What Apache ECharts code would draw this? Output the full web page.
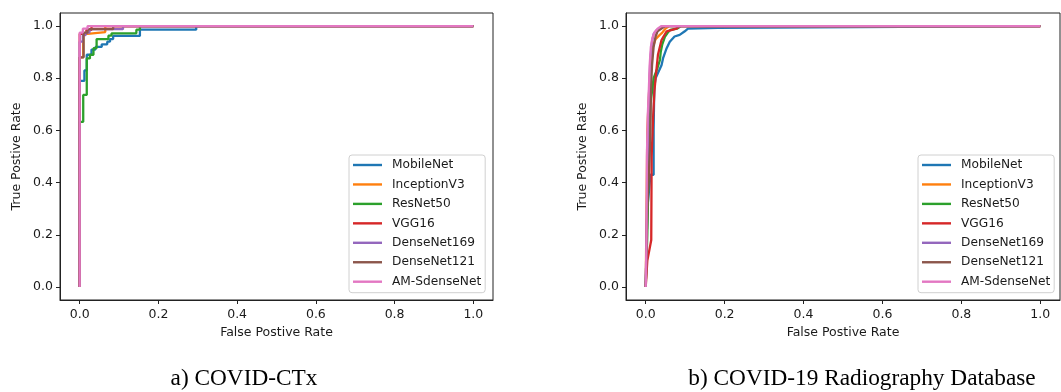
<!DOCTYPE html>
<html>
<head>
<meta charset="utf-8">
<script src="https://cdn.jsdelivr.net/npm/echarts@6/dist/echarts.min.js"></script>
<style>
html,body{margin:0;padding:0;background:#fff;}
#chart{width:1061px;height:392px;}
</style>
</head>
<body>
<div id="chart"></div>
<script>
// ---------- Data ----------
const seriesNames = ['MobileNet','InceptionV3','ResNet50','VGG16','DenseNet169','DenseNet121','AM-SdenseNet'];
const seriesColors = ['#1f77b4','#ff7f0e','#2ca02c','#d62728','#9467bd','#8c564b','#e377c2'];
const tickValues = [0, 0.2, 0.4, 0.6, 0.8, 1.0];
const captions = ['a) COVID-CTx', 'b) COVID-19 Radiography Database'];
const xTitle = 'False Postive Rate';
const yTitle = 'True Postive Rate';

// (a) COVID-CTx : [FPR, TPR]
const ctxMobileNet = [[0,0],[0,0.79],[0.012,0.79],[0.012,0.83],[0.018,0.83],[0.018,0.89],[0.03,0.89],[0.03,0.91],[0.04,0.91],[0.04,0.92],[0.056,0.92],[0.056,0.93],[0.07,0.93],[0.07,0.94],[0.077,0.94],[0.077,0.95],[0.085,0.95],[0.085,0.962],[0.153,0.962],[0.153,0.986],[0.296,0.986],[0.296,1],[1,1]];
const ctxInceptionV3 = [[0,0],[0,0.88],[0.009,0.88],[0.009,0.97],[0.02,0.97],[0.02,0.977],[0.065,0.977],[0.065,1],[1,1]];
const ctxResNet50 = [[0,0],[0,0.633],[0.009,0.633],[0.009,0.736],[0.018,0.736],[0.018,0.876],[0.026,0.876],[0.026,0.89],[0.035,0.89],[0.035,0.915],[0.043,0.915],[0.043,0.95],[0.073,0.95],[0.073,0.963],[0.081,0.963],[0.081,0.972],[0.144,0.972],[0.144,0.986],[0.153,0.986],[0.153,1],[1,1]];
const ctxVGG16 = [[0,0],[0,0.97],[0.017,0.97],[0.017,0.985],[0.03,0.985],[0.03,1],[1,1]];
const ctxDenseNet169 = [[0,0],[0,0.94],[0.008,0.94],[0.008,0.965],[0.015,0.965],[0.015,0.975],[0.025,0.975],[0.025,0.988],[0.11,0.988],[0.11,1],[1,1]];
const ctxDenseNet121 = [[0,0],[0,0.88],[0.01,0.88],[0.01,0.975],[0.02,0.975],[0.02,0.988],[0.085,0.988],[0.085,1],[1,1]];
const ctxAMSdenseNet = [[0,0],[0,0.975],[0.008,0.975],[0.008,0.99],[0.02,0.99],[0.02,1],[1,1]];

// (b) COVID-19 Radiography Database : [FPR, TPR]
const radMobileNet = [[0,0],[0.004,0.3],[0.012,0.43],[0.02,0.43],[0.02,0.6],[0.021,0.7],[0.022,0.77],[0.025,0.8],[0.031,0.82],[0.04,0.85],[0.044,0.877],[0.053,0.915],[0.061,0.94],[0.073,0.96],[0.086,0.966],[0.099,0.98],[0.107,0.99],[0.183,0.993],[0.183,1],[1,1]];
const radInceptionV3 = [[0,0],[0.002,0.3],[0.004,0.6],[0.007,0.7],[0.012,0.85],[0.018,0.92],[0.025,0.95],[0.035,0.965],[0.042,0.975],[0.05,0.99],[0.06,1],[1,1]];
const radResNet50 = [[0,0],[0.004,0.2],[0.008,0.5],[0.012,0.7],[0.02,0.8],[0.03,0.84],[0.036,0.87],[0.038,0.9],[0.042,0.93],[0.049,0.96],[0.056,0.975],[0.062,0.985],[0.079,0.99],[0.09,1],[1,1]];
const radVGG16 = [[0,0],[0.004,0.1],[0.014,0.18],[0.015,0.5],[0.019,0.66],[0.022,0.75],[0.025,0.8],[0.031,0.89],[0.04,0.946],[0.053,0.98],[0.078,0.99],[0.085,1],[1,1]];
const radDenseNet169 = [[0,0],[0.003,0.3],[0.006,0.6],[0.009,0.78],[0.012,0.88],[0.016,0.94],[0.02,0.97],[0.028,0.985],[0.04,0.995],[0.05,1],[1,1]];
const radDenseNet121 = [[0,0],[0.004,0.3],[0.01,0.5],[0.012,0.6],[0.013,0.75],[0.016,0.85],[0.02,0.92],[0.025,0.96],[0.03,0.98],[0.04,0.99],[0.05,1],[1,1]];
const radAMSdenseNet = [[0,0],[0.002,0.2],[0.003,0.5],[0.005,0.65],[0.008,0.76],[0.01,0.85],[0.013,0.92],[0.017,0.955],[0.022,0.975],[0.03,0.99],[0.04,1],[1,1]];

const ctxData = [ctxMobileNet, ctxInceptionV3, ctxResNet50, ctxVGG16, ctxDenseNet169, ctxDenseNet121, ctxAMSdenseNet];
const radData = [radMobileNet, radInceptionV3, radResNet50, radVGG16, radDenseNet169, radDenseNet121, radAMSdenseNet];

// ---------- Chart ----------
const FONT = 'DejaVu Sans';
const TXT = '#1a1a1a';
const chart = echarts.init(document.getElementById('chart'), null, {renderer: 'canvas'});

function xAxisDef(gi) {
  return {
    type: 'value', gridIndex: gi, min: -0.05, max: 1.05,
    name: xTitle, nameLocation: 'middle', nameGap: 26,
    nameTextStyle: {fontFamily: FONT, fontSize: 12.5, color: TXT},
    axisLine: {show: true, onZero: false, lineStyle: {color: '#222', width: 1}},
    axisTick: {show: true, inside: false, length: 4, customValues: tickValues, lineStyle: {color: '#222'}},
    axisLabel: {show: true, margin: 8, customValues: tickValues, fontFamily: FONT, fontSize: 12.5, color: TXT,
      formatter: v => v.toFixed(1)},
    splitLine: {show: false}
  };
}
function yAxisDef(gi) {
  return {
    type: 'value', gridIndex: gi, min: -0.05, max: 1.05,
    name: yTitle, nameLocation: 'middle', nameGap: 37,
    nameTextStyle: {fontFamily: FONT, fontSize: 12.5, color: TXT},
    axisLine: {show: true, onZero: false, lineStyle: {color: '#222', width: 1}},
    axisTick: {show: true, inside: false, length: 4, customValues: tickValues, lineStyle: {color: '#222'}},
    axisLabel: {show: true, margin: 7, customValues: tickValues, fontFamily: FONT, fontSize: 12.5, color: TXT,
      formatter: v => v.toFixed(1)},
    splitLine: {show: false}
  };
}
function legendDef(left) {
  return {
    left: left, top: 155, orient: 'vertical',
    data: seriesNames.map((n, i) => ({name: n, icon: 'rect', itemStyle: {color: seriesColors[i]}})),
    itemWidth: 29, itemHeight: 2.4, itemGap: 5.45,
    padding: [3, 4, 4, 4],
    borderColor: '#d0d0d0', borderWidth: 1, borderRadius: 3, backgroundColor: '#fff',
    textStyle: {fontFamily: FONT, fontSize: 12.2, color: TXT, lineHeight: 14, padding: [0, 0, 0, 5]},
    selectedMode: false
  };
}

const series = [];
[ctxData, radData].forEach((set, gi) => {
  set.forEach((d, i) => {
    series.push({
      type: 'line', name: seriesNames[i], xAxisIndex: gi, yAxisIndex: gi,
      data: d, showSymbol: false, symbol: 'none', smooth: false,
      lineStyle: {color: seriesColors[i], width: 2.3},
      itemStyle: {color: seriesColors[i]},
      animation: false, clip: true, z: 2 + i
    });
  });
});

chart.setOption({
  animation: false,
  backgroundColor: '#fff',
  title: [
    {text: captions[0], left: 239, top: 362, textAlign: 'center',
     textStyle: {fontFamily: 'Liberation Serif', fontWeight: 'normal', fontSize: 23.3, color: '#000'}},
    {text: captions[1], left: 857, top: 362, textAlign: 'center',
     textStyle: {fontFamily: 'Liberation Serif', fontWeight: 'normal', fontSize: 23.3, color: '#000'}}
  ],
  grid: [
    {left: 60, top: 13, width: 433, height: 287, show: true, borderColor: '#222', borderWidth: 1, backgroundColor: 'transparent'},
    {left: 626, top: 13, width: 434, height: 287, show: true, borderColor: '#222', borderWidth: 1, backgroundColor: 'transparent'}
  ],
  xAxis: [xAxisDef(0), xAxisDef(1)],
  yAxis: [yAxisDef(0), yAxisDef(1)],
  legend: [legendDef(349), legendDef(918)],
  series: series
});
</script>
</body>
</html>
